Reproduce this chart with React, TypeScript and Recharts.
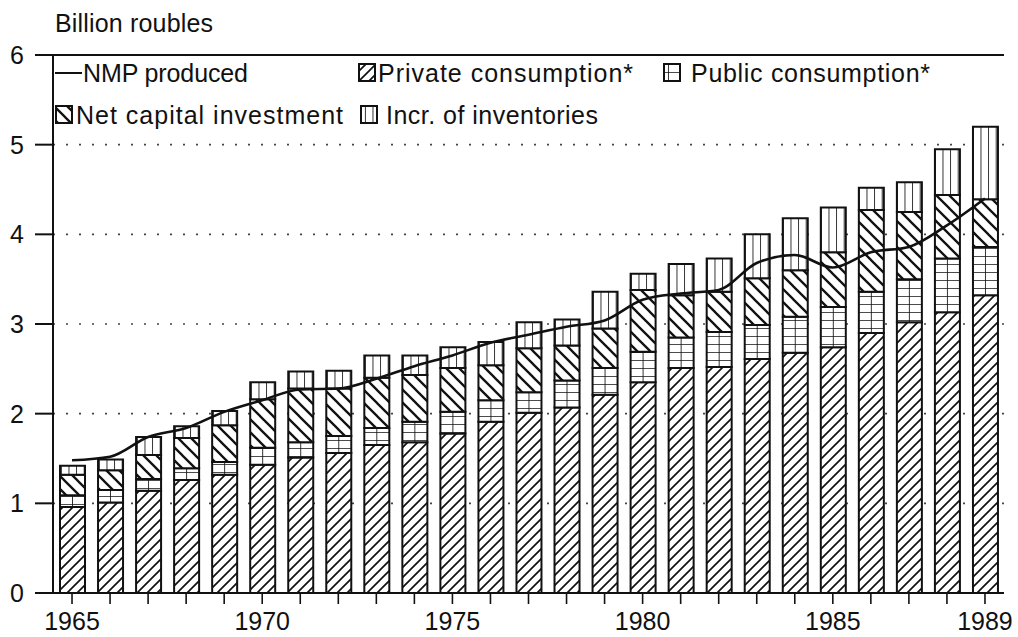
import React from 'react';
import {
  ComposedChart,
  Bar,
  Line,
  XAxis,
  YAxis,
  CartesianGrid,
  ReferenceLine,
} from 'recharts';

const years = [
  1965, 1966, 1967, 1968, 1969, 1970, 1971, 1972, 1973, 1974, 1975, 1976, 1977,
  1978, 1979, 1980, 1981, 1982, 1983, 1984, 1985, 1986, 1987, 1988, 1989,
];
const privateConsumption = [
  0.96, 1.01, 1.14, 1.26, 1.32, 1.43, 1.51, 1.56, 1.65, 1.68, 1.78, 1.91, 2.01,
  2.07, 2.21, 2.35, 2.51, 2.52, 2.61, 2.68, 2.74, 2.9, 3.02, 3.13, 3.32,
];
const publicConsumption = [
  0.13, 0.14, 0.13, 0.13, 0.14, 0.19, 0.17, 0.19, 0.19, 0.23, 0.24, 0.24, 0.23,
  0.3, 0.3, 0.34, 0.34, 0.39, 0.38, 0.4, 0.45, 0.46, 0.48, 0.6, 0.54,
];
const netCapitalInvestment = [
  0.23, 0.22, 0.27, 0.34, 0.41, 0.54, 0.6, 0.53, 0.56, 0.52, 0.49, 0.39, 0.49,
  0.39, 0.44, 0.69, 0.47, 0.45, 0.52, 0.52, 0.61, 0.91, 0.75, 0.71, 0.53,
];
const inventories = [
  0.1, 0.12, 0.2, 0.13, 0.16, 0.19, 0.19, 0.2, 0.25, 0.22, 0.23, 0.26, 0.29,
  0.29, 0.41, 0.18, 0.35, 0.37, 0.49, 0.58, 0.5, 0.25, 0.33, 0.51, 0.81,
];
const nmpProduced = [
  1.48, 1.52, 1.74, 1.84, 2.02, 2.15, 2.27, 2.28, 2.39, 2.53, 2.65, 2.79, 2.88,
  2.97, 3.04, 3.27, 3.34, 3.38, 3.68, 3.77, 3.63, 3.8, 3.86, 4.1, 4.4,
];
const yTicks = [0, 1, 2, 3, 4, 5, 6];
const labeledYears = [1965, 1970, 1975, 1980, 1985, 1989];

const data = years.map((year, i) => ({
  year,
  priv: privateConsumption[i],
  pub: publicConsumption[i],
  net: netCapitalInvestment[i],
  inv: inventories[i],
  nmp: nmpProduced[i],
}));

const FONT = '"Liberation Sans", Arial, Helvetica, sans-serif';
const INK = '#111';

function YearTick(props: any) {
  const { x, y, payload } = props;
  if (!labeledYears.includes(payload.value)) return <g />;
  return (
    <text x={x} y={y} dy="0.71em" textAnchor="middle" fontSize={25} fontFamily={FONT} fill={INK}>
      {payload.value}
    </text>
  );
}

function Swatch({ x, y, fill }: { x: number; y: number; fill: string }) {
  return <rect x={x} y={y} width={16} height={17} fill={fill} stroke={INK} strokeWidth={2} />;
}

export default function App() {
  return (
    <div style={{ position: 'absolute', left: 0, top: 0, width: 1018, height: 637, background: '#fff' }}>
      <ComposedChart
        width={1018}
        height={637}
        data={data}
        margin={{ top: 55, right: 14, bottom: 0, left: 0 }}
      >
        <defs>
          <pattern id="pPrivate" patternUnits="userSpaceOnUse" width={10} height={10}>
            <rect width={10} height={10} fill="#fff" />
            <path d="M0,10 L10,0 M-2,2 L2,-2 M8,12 L12,8" stroke={INK} strokeWidth={1.7} />
          </pattern>
          <pattern id="pNet" patternUnits="userSpaceOnUse" width={13} height={13}>
            <rect width={13} height={13} fill="#fff" />
            <path d="M0,0 L13,13 M-3,10 L3,16 M10,-3 L16,3" stroke={INK} strokeWidth={2.3} />
          </pattern>
          <pattern id="pPublic" patternUnits="userSpaceOnUse" x={72} width={12.68} height={8}>
            <rect width={12.68} height={8} fill="#fff" />
            <path d="M0,0 L12.68,0 M0,0 L0,8" stroke={INK} strokeWidth={1.7} />
          </pattern>
          <pattern id="pInv" patternUnits="userSpaceOnUse" x={68.5} width={7.6} height={20}>
            <rect width={7.6} height={20} fill="#fff" />
            <path d="M0,0 L0,20" stroke={INK} strokeWidth={1.7} />
          </pattern>
        </defs>
        <CartesianGrid vertical={false} stroke="#444" strokeWidth={1.6} strokeDasharray="2 11" />
        <XAxis
          dataKey="year"
          interval={0}
          height={44}
          tickSize={11}
          tickMargin={8}
          tick={YearTick}
          tickLine={{ stroke: INK, strokeWidth: 1.6 }}
          axisLine={{ stroke: INK, strokeWidth: 2 }}
        />
        <YAxis
          domain={[0, 6]}
          ticks={yTicks}
          width={53}
          tickSize={18}
          tickMargin={11}
          tick={{ fontSize: 25, fontFamily: FONT, fill: INK }}
          tickLine={{ stroke: INK, strokeWidth: 2 }}
          axisLine={{ stroke: INK, strokeWidth: 2 }}
        />
        <YAxis
          yAxisId="r"
          orientation="right"
          domain={[0, 6]}
          width={0}
          tick={false}
          tickLine={false}
          axisLine={{ stroke: INK, strokeWidth: 2 }}
        />
        <ReferenceLine y={6} stroke={INK} strokeWidth={2} />
        <Bar dataKey="priv" stackId="a" barSize={25} fill="url(#pPrivate)" stroke={INK} strokeWidth={2} isAnimationActive={false} />
        <Bar dataKey="pub" stackId="a" barSize={25} fill="url(#pPublic)" stroke={INK} strokeWidth={2} isAnimationActive={false} />
        <Bar dataKey="net" stackId="a" barSize={25} fill="url(#pNet)" stroke={INK} strokeWidth={2} isAnimationActive={false} />
        <Bar dataKey="inv" stackId="a" barSize={25} fill="url(#pInv)" stroke={INK} strokeWidth={2} isAnimationActive={false} />
        <Line type="monotone" dataKey="nmp" stroke={INK} strokeWidth={2.6} dot={false} isAnimationActive={false} />
      </ComposedChart>
      <svg
        width={1018}
        height={637}
        style={{ position: 'absolute', left: 0, top: 0, pointerEvents: 'none' }}
        fontFamily={FONT}
        fontSize={25}
        fill={INK}
      >
        <text x={55} y={32} textLength={158} lengthAdjust="spacing">Billion roubles</text>
        <line x1={55} x2={82} y1={73} y2={73} stroke={INK} strokeWidth={2} />
        <text x={83} y={82} textLength={165} lengthAdjust="spacing">NMP produced</text>
        <Swatch x={359} y={64} fill="url(#pPrivate)" />
        <text x={378} y={82} textLength={255} lengthAdjust="spacing">Private consumption*</text>
        <Swatch x={664} y={64} fill="url(#pPublic)" />
        <text x={691} y={82} textLength={239} lengthAdjust="spacing">Public consumption*</text>
        <Swatch x={56} y={106} fill="url(#pNet)" />
        <text x={76} y={124} textLength={267} lengthAdjust="spacing">Net capital investment</text>
        <Swatch x={361} y={106} fill="url(#pInv)" />
        <text x={386} y={124} textLength={212} lengthAdjust="spacing">Incr. of inventories</text>
      </svg>
    </div>
  );
}
